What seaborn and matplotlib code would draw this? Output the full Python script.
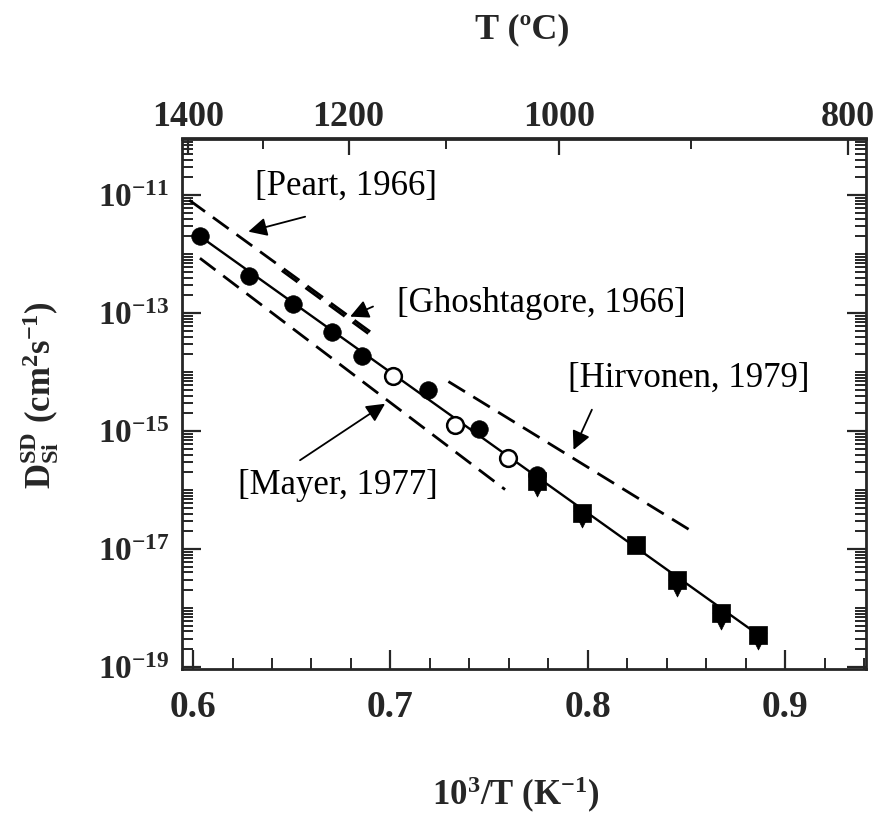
import numpy as np
import pandas as pd
import matplotlib
matplotlib.use("Agg")
import matplotlib.pyplot as plt
import seaborn as sns
from matplotlib.ticker import FixedLocator, LogLocator, NullFormatter

# ---------------- data ----------------
# filled circles
fc_x = [0.6035, 0.6284, 0.6508, 0.6706, 0.6858, 0.7193, 0.7451, 0.7742]
fc_D = [2.0e-12, 4.3e-13, 1.45e-13, 4.8e-14, 1.9e-14, 4.9e-15, 1.07e-15, 1.8e-16]
# open circles
oc_x = [0.7015, 0.7328, 0.7595]
oc_D = [8.5e-15, 1.26e-15, 3.5e-16]
# filled squares
sq_x = [0.7742, 0.7970, 0.8245, 0.8452, 0.8675, 0.8865]
sq_D = [1.4e-16, 4.1e-17, 1.15e-17, 2.95e-18, 8.1e-19, 3.5e-19]
# filled down triangles
tr_x = [0.7742, 0.7970, 0.8452, 0.8675, 0.8865]
tr_D = [1.1e-16, 3.2e-17, 2.2e-18, 6.0e-19, 2.8e-19]
# solid fit line
fit_x = [0.6035, 0.8865]
fit_D = [2.0e-12, 3.5e-19]
# literature dashed lines
peart_x = [0.5981, 0.6906]
peart_D = [8.2e-12, 4.6e-14]
ghosh_x = [0.6450, 0.6900]
ghosh_D = [5.25e-13, 4.2e-14]
mayer_x = [0.6035, 0.7581]
mayer_D = [8.5e-13, 1.02e-16]
hirv_x = [0.7294, 0.8533]
hirv_D = [6.9e-15, 1.95e-17]

x_ticks = [0.6, 0.7, 0.8, 0.9]
x_tick_labels = ["0.6", "0.7", "0.8", "0.9"]
y_ticks = [1e-19, 1e-17, 1e-15, 1e-13, 1e-11]
y_tick_labels = ["10$^{-19}$", "10$^{-17}$", "10$^{-15}$", "10$^{-13}$", "10$^{-11}$"]
T_major = [1400, 1200, 1000, 800]
T_major_labels = ["1400", "1200", "1000", "800"]
T_minor = [1300, 1100, 900]

# annotation labels: text, text anchor (x, D), arrow tail (x, D), arrow head (x, D)
ann_text = ["[Peart, 1966]", "[Ghoshtagore, 1966]", "[Hirvonen, 1979]", "[Mayer, 1977]"]
ann_text_xy = [(0.6314, 1.41e-11), (0.7034, 1.48e-13), (0.7900, 7.9e-15), (0.7242, 1.2e-16)]
ann_text_ha = ["left", "left", "left", "right"]
ann_tail = [(0.6568, 4.3e-12), (0.6912, 1.29e-13), (0.8021, 2.3e-15), (0.6542, 3.2e-16)]
ann_head = [(0.6280, 2.4e-12), (0.6796, 8.7e-14), (0.7928, 4.8e-16), (0.6973, 2.9e-15)]

# ---------------- style ----------------
sns.set_style("ticks")
plt.rcParams["font.family"] = ["Liberation Serif", "DejaVu Serif"]
plt.rcParams["mathtext.fontset"] = "custom"
plt.rcParams["mathtext.rm"] = "Liberation Serif"
plt.rcParams["mathtext.it"] = "Liberation Serif:italic"
plt.rcParams["mathtext.bf"] = "Liberation Serif:bold"
plt.rcParams["mathtext.default"] = "regular"

fig = plt.figure(figsize=(8.84, 8.24), dpi=100)
ax = fig.add_axes([182 / 884, 155 / 824, 684 / 884, 530.5 / 824])

dash = (0, (7, 3.5))
for xs, ds in [(peart_x, peart_D), (ghosh_x, ghosh_D), (mayer_x, mayer_D), (hirv_x, hirv_D)]:
    sns.lineplot(x=xs, y=ds, ax=ax, color="black", lw=2.0, linestyle=dash,
                 estimator=None, sort=False, legend=False)
sns.lineplot(x=fit_x, y=fit_D, ax=ax, color="black", lw=1.7,
             estimator=None, sort=False, legend=False)

sns.scatterplot(x=tr_x, y=tr_D, ax=ax, marker="v", s=150, color="black",
                edgecolor="black", linewidth=0.5, zorder=3, legend=False)
sns.scatterplot(x=sq_x, y=sq_D, ax=ax, marker="s", s=175, color="black",
                edgecolor="black", linewidth=0.5, zorder=4, legend=False)
sns.scatterplot(x=fc_x, y=fc_D, ax=ax, marker="o", s=160, color="black",
                edgecolor="black", linewidth=0.5, zorder=5, legend=False)
sns.scatterplot(x=oc_x, y=oc_D, ax=ax, marker="o", s=145, color="white",
                edgecolor="black", linewidth=1.8, zorder=5, legend=False)

ax.set_yscale("log")
ax.set_xlim(0.5944, 0.941)
ax.set_ylim(0.925e-19, 0.91e-10)

ax.set_xticks(x_ticks)
ax.set_xticklabels(x_tick_labels)
ax.xaxis.set_minor_locator(FixedLocator(np.arange(0.60, 0.941, 0.02)))
ax.set_yticks(y_ticks)
ax.set_yticklabels(y_tick_labels)
ax.yaxis.set_minor_locator(LogLocator(base=10, subs=np.arange(1, 10), numticks=100))
ax.yaxis.set_minor_formatter(NullFormatter())

ax.tick_params(axis="both", which="major", direction="in", length=14, width=1.6,
               top=False, right=True)
ax.tick_params(axis="both", which="minor", direction="in", length=8, width=1.4,
               top=False, right=True)
ax.tick_params(axis="x", which="major", pad=15, labelsize=27)
ax.tick_params(axis="y", which="major", pad=9, labelsize=24)
for lab in ax.get_xticklabels() + ax.get_yticklabels():
    lab.set_fontweight("bold")
for sp in ax.spines.values():
    sp.set_linewidth(2.0)
    sp.set_visible(True)

def to_C(x):
    x = np.asarray(x, dtype=float)
    with np.errstate(divide="ignore", invalid="ignore"):
        return 1000.0 / x - 273.15

def to_inv(t):
    t = np.asarray(t, dtype=float)
    with np.errstate(divide="ignore", invalid="ignore"):
        return 1000.0 / (t + 273.15)

secax = ax.secondary_xaxis("top", functions=(to_C, to_inv))
secax.set_xticks(T_major)
secax.set_xticklabels(T_major_labels)
secax.xaxis.set_minor_locator(FixedLocator(T_minor))
secax.tick_params(axis="x", which="major", direction="in", length=12, width=1.6,
                  labelsize=26, pad=3)
secax.tick_params(axis="x", which="minor", direction="in", length=8, width=1.4)
for lab in secax.get_xticklabels():
    lab.set_fontweight("bold")
secax.spines["top"].set_linewidth(2.0)

fig.text(522 / 884, 1 - 30 / 824, "T (ºC)", fontsize=26, fontweight="bold",
         ha="center", va="center")

ax.set_xlabel("10$^3$/T (K$^{-1}$)", fontsize=25, fontweight="bold", va="center")
ax.xaxis.set_label_coords((516 - 182) / 684, (669 - 795) / 530.5)
ax.set_ylabel("D$^{SD}_{Si}$ (cm$^2$s$^{-1}$)", fontsize=25, fontweight="bold", va="center")
ax.yaxis.set_label_coords((40 - 182) / 684, (669 - 395) / 530.5)

for txt, txy, ha, tail, head in zip(ann_text, ann_text_xy, ann_text_ha, ann_tail, ann_head):
    ax.text(txy[0], txy[1], txt, fontsize=25, ha=ha, va="center", color="black")
    ax.annotate("", xy=head, xytext=tail, xycoords="data", textcoords="data",
                arrowprops=dict(arrowstyle="-|>", color="black", lw=1.3,
                                mutation_scale=28, shrinkA=0, shrinkB=0))

fig.savefig("out.png", dpi=100, facecolor="white")
